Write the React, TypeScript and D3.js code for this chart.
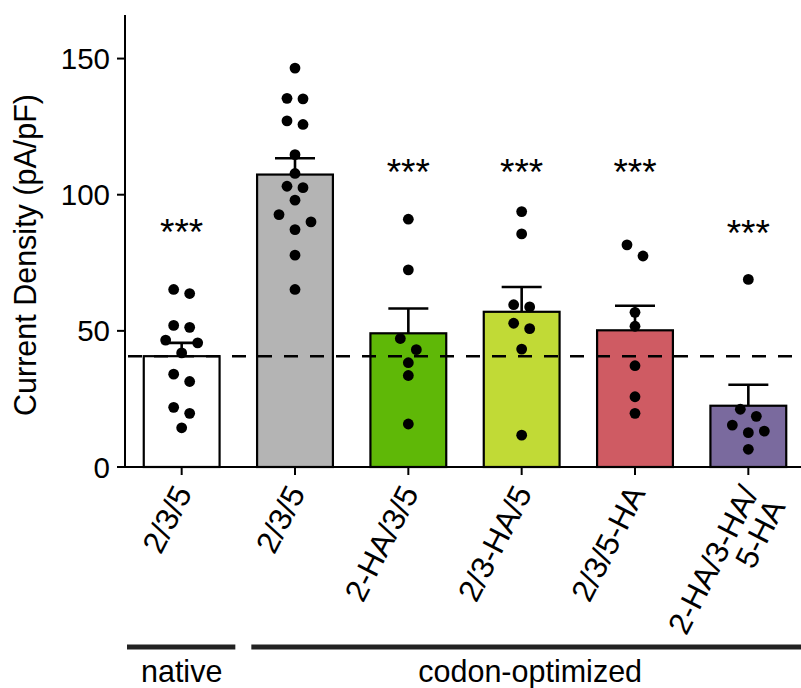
import React from "react";
import * as d3 from "d3";

// ---- data ----
const categoryLines: string[][] = [
  ["2/3/5"],
  ["2/3/5"],
  ["2-HA/3/5"],
  ["2/3-HA/5"],
  ["2/3/5-HA"],
  ["2-HA/3-HA/", "5-HA"],
];
const means = [40.7, 107.4, 49.1, 57.0, 50.2, 22.5];
const sems = [4.9, 6.0, 9.1, 9.1, 9.0, 7.7];
const points0 = [65.2, 63.7, 52.0, 51.3, 46.6, 45.6, 41.9, 34.1, 31.4, 21.9, 19.7, 14.4];
const points1 = [146.5, 135.4, 135.2, 127.1, 125.8, 114.7, 107.8, 103.1, 102.6, 98.0, 92.7, 90.0, 87.2, 77.8, 65.2];
const points2 = [91.0, 72.4, 47.2, 43.1, 38.3, 33.6, 15.8];
const points3 = [93.8, 85.6, 59.6, 58.8, 52.8, 50.8, 43.3, 11.7];
const points4 = [81.6, 77.5, 56.8, 51.7, 37.2, 25.8, 19.7];
const points5 = [68.9, 21.2, 18.6, 15.4, 13.2, 12.6, 6.5];
const allPoints = [points0, points1, points2, points3, points4, points5];
const barColors = ["#ffffff", "#b4b4b4", "#5fb807", "#c1da36", "#cf5b63", "#7a6a9e"];
const sigLabels = ["***", "", "***", "***", "***", "***"];
const sigValues: (number | null)[] = [89.2, null, 111.5, 111.5, 111.5, 88.8];
const yTicks = [0, 50, 100, 150];
const yDomainMax = 166;
const yLabel = "Current Density (pA/pF)";
const groupLabels = ["native", "codon-optimized"];
const groupFirst = [0, 1];
const groupLast = [0, 5];

const FONT = "'Liberation Sans', Arial, Helvetica, sans-serif";
const W = 801;
const H = 688;

function swarmOffsets(vals: number[], y: (v: number) => number, r: number, s: number) {
  const idx = vals.map((v, i) => i).sort((a, b) => vals[b] - vals[a]);
  const rows: number[][] = [];
  let cur: number[] = [];
  idx.forEach((i) => {
    const py = y(vals[i]);
    if (cur.length) {
      const prev = y(vals[cur[cur.length - 1]]);
      const first = y(vals[cur[0]]);
      if (py - prev < 2.2 * r && py - first <= 2.9 * r) {
        cur.push(i);
        return;
      }
      rows.push(cur);
    }
    cur = [i];
  });
  if (cur.length) rows.push(cur);
  const off = new Array(vals.length).fill(0);
  rows.forEach((row) => {
    const k = row.length;
    if (k === 1) off[row[0]] = 0;
    else if (k === 2) {
      off[row[0]] = -s / 2;
      off[row[1]] = s / 2;
    } else if (k === 3) {
      off[row[0]] = -s;
      off[row[1]] = s;
      off[row[2]] = 0;
    } else {
      row.forEach((i, j) => (off[i] = (j - (k - 1) / 2) * s));
    }
  });
  return off;
}

export default function App() {
  const y = d3.scaleLinear().domain([0, yDomainMax]).range([467, 15]);
  const x = d3
    .scaleBand<number>()
    .domain(categoryLines.map((_, i) => i))
    .range([125, 805])
    .paddingInner(0.331)
    .paddingOuter(0.1655);
  const bw = x.bandwidth();
  const cx = (i: number) => (x(i) as number) + bw / 2;
  const y0 = y(0);
  const r = 5.4;
  const capHalf = 20;
  const starFs = 37;
  const tickFs = 29.5;
  const xTickFs = 31.5;
  const labelFs = 30.5;
  const angle = -63;
  const lineH = 0.95;
  const boundary = x.range()[0] + x.step();
  const groupStart = (g: number) => (groupFirst[g] === 0 ? x.range()[0] + 2 : boundary + 13);
  const groupEnd = (g: number) => (groupLast[g] === 0 ? boundary - 3 : W);

  return (
    <svg
      width={W}
      height={H}
      style={{ position: "absolute", left: 0, top: 0, background: "#fff" }}
      fontFamily={FONT}
    >
      {/* bars */}
      {means.map((m, i) => (
        <rect
          key={"b" + i}
          x={x(i)}
          y={y(m)}
          width={bw}
          height={y0 - y(m)}
          fill={barColors[i]}
          stroke="#000"
          strokeWidth={2.2}
        />
      ))}
      {/* error bars */}
      {means.map((m, i) => (
        <g key={"e" + i} stroke="#000" strokeWidth={2.6}>
          <line x1={cx(i)} x2={cx(i)} y1={y(m)} y2={y(m + sems[i])} />
          <line x1={cx(i) - capHalf} x2={cx(i) + capHalf} y1={y(m + sems[i])} y2={y(m + sems[i])} />
        </g>
      ))}
      {/* reference dashed line at native mean */}
      <line
        x1={x.range()[0] + 3}
        x2={795}
        y1={y(means[0])}
        y2={y(means[0])}
        stroke="#000"
        strokeWidth={2.5}
        strokeDasharray="14,12"
      />
      {/* points */}
      {allPoints.map((pts, i) => {
        const off = swarmOffsets(pts, y, r, 16);
        return pts.map((v, j) => (
          <circle key={"p" + i + "_" + j} cx={cx(i) + off[j]} cy={y(v)} r={r} fill="#000" />
        ));
      })}
      {/* significance stars */}
      {sigLabels.map((s, i) =>
        s && sigValues[i] != null ? (
          <text
            key={"s" + i}
            x={cx(i)}
            y={y(sigValues[i] as number) + 0.575 * starFs}
            fontSize={starFs}
            textAnchor="middle"
          >
            {s}
          </text>
        ) : null
      )}
      {/* axes */}
      <line x1={125} x2={125} y1={y0} y2={y(yDomainMax)} stroke="#000" strokeWidth={2} />
      <line x1={124} x2={W} y1={y0} y2={y0} stroke="#000" strokeWidth={2} />
      {yTicks.map((t) => (
        <g key={"yt" + t}>
          <line x1={117} x2={125} y1={y(t)} y2={y(t)} stroke="#000" strokeWidth={2} />
          <text x={110} y={y(t)} dy="0.36em" textAnchor="end" fontSize={tickFs}>
            {t}
          </text>
        </g>
      ))}
      {categoryLines.map((lines, i) => (
        <g key={"xt" + i}>
          <line x1={cx(i)} x2={cx(i)} y1={y0} y2={y0 + 8} stroke="#000" strokeWidth={2} />
          <text
            transform={`translate(${cx(i) + 11},${y0 + 26}) rotate(${angle})`}
            textAnchor="end"
            fontSize={xTickFs}
          >
            {lines.map((l, k) => (
              <tspan key={k} x={0} dy={k === 0 ? 0 : lineH + "em"}>
                {l}
              </tspan>
            ))}
          </text>
        </g>
      ))}
      <text
        transform={`translate(36,255) rotate(-90)`}
        textAnchor="middle"
        fontSize={labelFs}
      >
        {yLabel}
      </text>
      {/* group brackets */}
      {groupLabels.map((g, k) => {
        const a = groupStart(k);
        const b = groupEnd(k);
        const mid = groupFirst[k] === groupLast[k] ? cx(groupFirst[k]) : (a + b) / 2 + 4;
        return (
          <g key={"g" + k}>
            <line x1={a} x2={b} y1={647} y2={647} stroke="#222" strokeWidth={5} />
            <text x={mid} y={682} textAnchor="middle" fontSize={labelFs}>
              {g}
            </text>
          </g>
        );
      })}
    </svg>
  );
}
